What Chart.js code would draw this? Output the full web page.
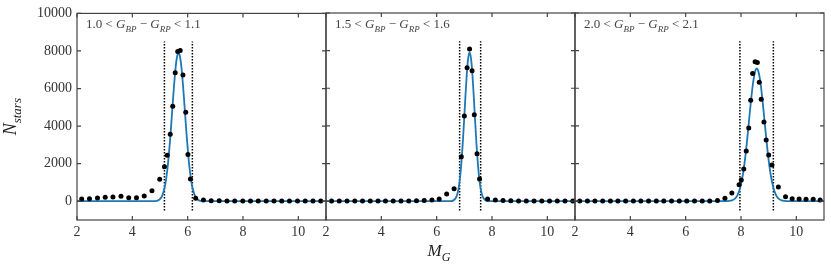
<!DOCTYPE html>
<html>
<head>
<meta charset="utf-8">
<script src="https://cdn.jsdelivr.net/npm/chart.js@4.4.1/dist/chart.umd.min.js"></script>
<style>
  html, body { margin: 0; padding: 0; background: #fff; }
  #wrap { position: relative; width: 831px; height: 269px; }
  #wrap canvas { position: absolute; left: 0; top: 0; }
</style>
</head>
<body>
<div id="wrap">
  <canvas id="c1" width="831" height="269"></canvas>
  <canvas id="c2" width="831" height="269"></canvas>
  <canvas id="c3" width="831" height="269"></canvas>
</div>
<script>
// Axis ranges and ticks
const xMin = 2, xMax = 11;
const yMin = -1000, yMax = 10000;
const xTicks = [2, 4, 6, 8, 10];
const yTicks = [0, 2000, 4000, 6000, 8000, 10000];

// Colour bin labels
const binLo = ['1.0', '1.5', '2.0'];
const binHi = ['1.1', '1.6', '2.1'];

// Panel 1: 1.0 < BP-RP < 1.1
const p1X = [2.17, 2.45, 2.74, 3.02, 3.30, 3.59, 3.87, 4.15, 4.43, 4.71, 4.99, 5.16, 5.26, 5.37, 5.46, 5.55, 5.64, 5.73, 5.83, 5.93, 6.01, 6.10, 6.29, 6.57, 6.85, 7.14, 7.42, 7.70, 7.99, 8.27, 8.55, 8.84, 9.12, 9.40, 9.68, 9.97, 10.25, 10.53, 10.81];
const p1Y = [117, 135, 170, 205, 223, 258, 188, 188, 276, 558, 1163, 1832, 2453, 3568, 5055, 6845, 7976, 8029, 6718, 4737, 2490, 1179, 154, 64, 25, 20, 15, 15, 12, 12, 10, 10, 10, 8, 8, 8, 6, 6, 6];
const fit1X = [2, 4.67, 4.77, 4.87, 4.97, 5.07, 5.17, 5.22, 5.27, 5.32, 5.37, 5.42, 5.47, 5.52, 5.57, 5.62, 5.67, 5.72, 5.77, 5.82, 5.87, 5.92, 5.97, 6.02, 6.07, 6.12, 6.17, 6.27, 6.37, 6.47, 6.57, 6.67, 11];
const fit1Y = [0, 0, 4, 19, 77, 263, 743, 1165, 1742, 2481, 3374, 4375, 5414, 6387, 7188, 7716, 7900, 7716, 7188, 6387, 5414, 4375, 3374, 2481, 1742, 1165, 743, 263, 77, 19, 4, 0, 0];
const cut1 = [5.16, 6.17];

// Panel 2: 1.5 < BP-RP < 1.6
const p2X = [2.20, 2.48, 2.76, 3.04, 3.32, 3.60, 3.88, 4.15, 4.43, 4.71, 4.99, 5.27, 5.55, 5.83, 6.09, 6.36, 6.63, 6.89, 7.00, 7.10, 7.19, 7.28, 7.36, 7.46, 7.55, 7.84, 8.12, 8.40, 8.68, 8.96, 9.24, 9.52, 9.80, 10.08, 10.36, 10.64, 10.92];
const p2Y = [5, 5, 5, 5, 5, 5, 6, 6, 8, 10, 15, 25, 40, 60, 117, 382, 664, 2363, 4524, 7089, 8082, 6930, 4594, 2523, 1179, 117, 60, 30, 20, 15, 12, 10, 8, 8, 6, 6, 6];
const fit2X = [2, 6.39, 6.49, 6.59, 6.69, 6.74, 6.79, 6.84, 6.89, 6.94, 6.99, 7.04, 7.09, 7.14, 7.19, 7.24, 7.29, 7.34, 7.39, 7.44, 7.49, 7.54, 7.59, 7.64, 7.69, 7.79, 7.89, 7.99, 11];
const fit2Y = [0, 0, 4, 30, 167, 347, 669, 1193, 1970, 3011, 4261, 5583, 6773, 7601, 7900, 7601, 6773, 5583, 4261, 3011, 1970, 1193, 669, 347, 167, 30, 4, 0, 0];
const cut2 = [6.83, 7.59];

// Panel 3: 2.0 < BP-RP < 2.1
const p3X = [2.17, 2.45, 2.72, 3.00, 3.28, 3.55, 3.83, 4.11, 4.38, 4.66, 4.94, 5.21, 5.49, 5.77, 6.04, 6.32, 6.60, 6.87, 7.15, 7.42, 7.67, 7.93, 8.01, 8.10, 8.19, 8.28, 8.35, 8.42, 8.51, 8.59, 8.66, 8.73, 8.83, 8.91, 9.00, 9.12, 9.35, 9.61, 9.85, 10.10, 10.35, 10.61, 10.86];
const p3Y = [5, 5, 5, 5, 5, 5, 5, 5, 5, 5, 5, 5, 5, 5, 5, 6, 8, 10, 30, 154, 440, 870, 1126, 1710, 2666, 3887, 5358, 6791, 7408, 7375, 6314, 5411, 4206, 3250, 2453, 1922, 754, 240, 133, 115, 97, 97, 60];
const fit3X = [2, 7.37, 7.47, 7.57, 7.67, 7.77, 7.87, 7.97, 8.07, 8.12, 8.17, 8.22, 8.27, 8.32, 8.37, 8.42, 8.47, 8.52, 8.57, 8.62, 8.67, 8.72, 8.77, 8.82, 8.87, 8.92, 8.97, 9.02, 9.07, 9.17, 9.27, 9.37, 9.47, 9.57, 9.67, 9.77, 11];
const fit3Y = [0, 0, 3, 12, 40, 119, 310, 710, 1430, 1938, 2541, 3228, 3972, 4733, 5461, 6107, 6614, 6938, 7050, 6938, 6614, 6107, 5461, 4733, 3972, 3228, 2541, 1938, 1430, 710, 310, 119, 40, 12, 3, 0, 0];
const cut3 = [7.96, 9.17];

// vertical extent of the dotted cut lines
const cutSpan = [-500, 8500];

// Layout (pixels)
const W = 831, H = 269;
const panelEdges = [[77, 326], [326, 575], [575, 824]];
const plotTop = 13, plotBottom = 220;

const SERIF = '"Liberation Serif", "DejaVu Serif", serif';
const FIT_BLUE = '#1f77b4';

function pairs(xs, ys) {
    return xs.map((v, i) => ({ x: v, y: ys[i] }));
}

// draw a run of text pieces (roman / italic / subscript)
function drawRich(ctx, parts, x, y, size, align) {
    const fontFor = p => `${p.it ? 'italic ' : ''}${p.sub ? Math.round(size * 0.7) : size}px ${SERIF}`;
    let w = 0;
    parts.forEach(p => { ctx.font = fontFor(p); w += ctx.measureText(p.t).width; });
    let cx = align === 'center' ? x - w / 2 : x;
    ctx.textAlign = 'left';
    ctx.textBaseline = 'alphabetic';
    parts.forEach(p => {
        ctx.font = fontFor(p);
        ctx.fillText(p.t, cx, y + (p.sub ? size * 0.28 : 0));
        cx += ctx.measureText(p.t).width;
    });
}

// Frame, inward ticks and labels
const framePlugin = {
    id: 'framePlugin',
    afterDraw(chart) {
        const { ctx, chartArea: a, scales } = chart;
        const idx = chart.options.plugins.framePlugin.idx;
        ctx.save();
        ctx.strokeStyle = '#444';
        ctx.lineWidth = 1.2;
        ctx.strokeRect(a.left, a.top, a.right - a.left, a.bottom - a.top);
        ctx.beginPath();
        xTicks.forEach(v => {
            const px = scales.x.getPixelForValue(v);
            ctx.moveTo(px, a.bottom); ctx.lineTo(px, a.bottom - 4);
            ctx.moveTo(px, a.top); ctx.lineTo(px, a.top + 4);
        });
        yTicks.forEach(v => {
            const py = scales.y.getPixelForValue(v);
            ctx.moveTo(a.left, py); ctx.lineTo(a.left + 4, py);
            ctx.moveTo(a.right, py); ctx.lineTo(a.right - 4, py);
        });
        ctx.stroke();

        // bin label
        ctx.fillStyle = '#444';
        drawRich(ctx, [
            { t: binLo[idx] + ' < ' },
            { t: 'G', it: true }, { t: 'BP', it: true, sub: true },
            { t: ' \u2212 ' },
            { t: 'G', it: true }, { t: 'RP', it: true, sub: true },
            { t: ' < ' + binHi[idx] }
        ], a.left + 9, a.top + 15, 13, 'left');

        ctx.fillStyle = '#222';
        if (idx === 0) {
            ctx.save();
            ctx.translate(11, (a.top + a.bottom) / 2);
            ctx.rotate(-Math.PI / 2);
            drawRich(ctx, [{ t: 'N', it: true }, { t: 'stars', it: true, sub: true }], 0, 5, 18, 'center');
            ctx.restore();
        }
        if (idx === 1) {
            drawRich(ctx, [{ t: 'M', it: true }, { t: 'G', it: true, sub: true }], 439, 256, 17, 'center');
        }
        ctx.restore();
    }
};

function makePanel(canvasId, idx, ptsX, ptsY, fitX, fitY, cut) {
    const [left, right] = panelEdges[idx];
    const tickFont = { family: SERIF, size: 14 };
    const cutStyle = { type: 'line', borderColor: '#000', borderWidth: 1.5, borderDash: [1.5, 1.5], pointRadius: 0 };
    return new Chart(document.getElementById(canvasId), {
        type: 'scatter',
        data: {
            datasets: [
                {
                    data: pairs(ptsX, ptsY),
                    backgroundColor: '#000',
                    borderColor: '#000',
                    pointRadius: 2.5,
                    borderWidth: 0,
                    showLine: false
                },
                {
                    type: 'line',
                    data: pairs(fitX, fitY),
                    borderColor: FIT_BLUE,
                    borderWidth: 1.8,
                    pointRadius: 0,
                    fill: false,
                    cubicInterpolationMode: 'monotone'
                },
                Object.assign({ data: pairs([cut[0], cut[0]], cutSpan) }, cutStyle),
                Object.assign({ data: pairs([cut[1], cut[1]], cutSpan) }, cutStyle)
            ]
        },
        options: {
            responsive: false,
            animation: false,
            devicePixelRatio: 1,
            events: [],
            layout: { padding: { left: idx === 0 ? 0 : left, right: W - right, top: plotTop, bottom: 0 } },
            plugins: {
                legend: { display: false },
                tooltip: { enabled: false },
                framePlugin: { idx: idx }
            },
            scales: {
                x: {
                    type: 'linear',
                    min: xMin,
                    max: xMax,
                    grid: { display: false, drawTicks: false },
                    border: { display: false },
                    ticks: { font: tickFont, color: '#333', padding: 4, maxRotation: 0, autoSkip: false, callback: v => String(v) },
                    afterBuildTicks: s => { s.ticks = xTicks.map(v => ({ value: v })); },
                    afterFit: s => { s.height = H - plotBottom; }
                },
                y: {
                    type: 'linear',
                    display: idx === 0,
                    min: yMin,
                    max: yMax,
                    grid: { display: false, drawTicks: false },
                    border: { display: false },
                    ticks: { font: tickFont, color: '#333', padding: 5, callback: v => String(v) },
                    afterBuildTicks: s => { s.ticks = yTicks.map(v => ({ value: v })); },
                    afterFit: s => { s.width = idx === 0 ? left : 0; }
                }
            }
        },
        plugins: [framePlugin]
    });
}

makePanel('c1', 0, p1X, p1Y, fit1X, fit1Y, cut1);
makePanel('c2', 1, p2X, p2Y, fit2X, fit2Y, cut2);
makePanel('c3', 2, p3X, p3Y, fit3X, fit3Y, cut3);
</script>
</body>
</html>
